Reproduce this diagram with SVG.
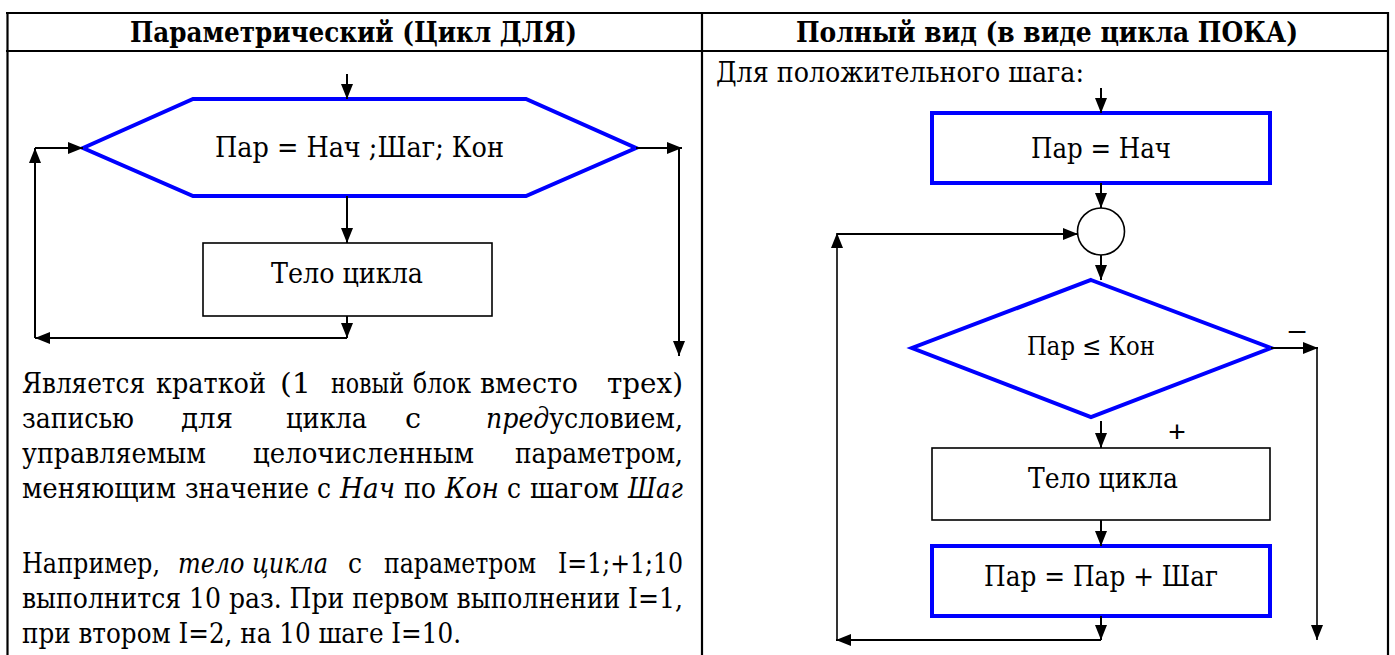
<svg xmlns="http://www.w3.org/2000/svg" width="1395" height="655" viewBox="0 0 1395 655">
  <defs>
    <marker id="arrow" viewBox="0 0 15 12" refX="15" refY="6" markerWidth="15" markerHeight="12" markerUnits="userSpaceOnUse" orient="auto">
      <path d="M0,0 L15,6 L0,12 Z" fill="#000"/>
    </marker>
  </defs>
  <style>
    .grid { stroke: #000; stroke-width: 2.2; fill: none; }
    .head { font-size: 28px; font-weight: bold; fill: #000; text-anchor: middle; }
    .body { font-size: 28px; fill: #000; }
    .lbl { font-size: 28px; fill: #000; }
    .sign { font-size: 30px; fill: #000; text-anchor: middle; }
    .blue { stroke: #0000ff; stroke-width: 4; fill: #fff; }
    .box { stroke: #000; stroke-width: 1.6; fill: #fff; }
    .flow { stroke: #000; stroke-width: 2; fill: none; }
    .flow .thin { stroke-width: 1.6; }
    .arr { marker-end: url(#arrow); }
    .it { font-style: italic; }
  </style>

  <rect width="1395" height="655" fill="#fff"/>

  <!-- table frame -->
  <g id="table" class="grid">
    <line x1="6" y1="13" x2="1389" y2="13"/>
    <line x1="6" y1="51" x2="1389" y2="51"/>
    <line x1="7.5" y1="12" x2="7.5" y2="655"/>
    <line x1="702" y1="12" x2="702" y2="655"/>
    <line x1="1388" y1="12" x2="1388" y2="655"/>
  </g>

  <g id="text-serif" font-family="DejaVu Serif Condensed, DejaVu Serif, Liberation Serif, serif">
    <!-- column headings -->
    <text id="head-left" class="head" x="353.5" y="42" textLength="447" lengthAdjust="spacingAndGlyphs">Параметрический (Цикл ДЛЯ)</text>
    <text id="head-right" class="head" x="1047" y="42" textLength="502" lengthAdjust="spacingAndGlyphs">Полный вид (в виде цикла ПОКА)</text>

    <!-- left column: compact FOR block -->
    <g id="for-block">
      <polygon class="blue" points="83,148 193,99 526,99 636,148 526,196 193,196"/>
      <text class="lbl" x="215" y="157" textLength="289" lengthAdjust="spacingAndGlyphs">Пар = Нач ;Шаг; Кон</text>
    </g>
    <g id="for-body">
      <rect class="box" x="203" y="243" width="289" height="73"/>
      <text class="lbl" x="271" y="283" textLength="152" lengthAdjust="spacingAndGlyphs">Тело цикла</text>
    </g>

    <!-- left column explanation, justified word by word -->
    <g id="for-notes" class="body">
      <text x="22" y="393" textLength="123" lengthAdjust="spacingAndGlyphs">Является</text>
      <text x="156" y="393" textLength="110" lengthAdjust="spacingAndGlyphs">краткой</text>
      <text x="280" y="393" textLength="31" lengthAdjust="spacingAndGlyphs">(1</text>
      <text x="331" y="393" textLength="73" lengthAdjust="spacingAndGlyphs">новый</text>
      <text x="413" y="393" textLength="58" lengthAdjust="spacingAndGlyphs">блок</text>
      <text x="480" y="393" textLength="98" lengthAdjust="spacingAndGlyphs">вместо</text>
      <text x="607" y="393" textLength="76" lengthAdjust="spacingAndGlyphs">трех)</text>

      <text x="22" y="428" textLength="112" lengthAdjust="spacingAndGlyphs">записью</text>
      <text x="181" y="428" textLength="52" lengthAdjust="spacingAndGlyphs">для</text>
      <text x="286" y="428" textLength="81" lengthAdjust="spacingAndGlyphs">цикла</text>
      <text x="405" y="428" textLength="16" lengthAdjust="spacingAndGlyphs">с</text>
      <text x="486" y="428" textLength="197" lengthAdjust="spacingAndGlyphs"><tspan class="it">пред</tspan>условием,</text>

      <text x="22" y="463" textLength="184" lengthAdjust="spacingAndGlyphs">управляемым</text>
      <text x="253" y="463" textLength="221" lengthAdjust="spacingAndGlyphs">целочисленным</text>
      <text x="515" y="463" textLength="168" lengthAdjust="spacingAndGlyphs">параметром,</text>

      <text x="22" y="498" textLength="154" lengthAdjust="spacingAndGlyphs">меняющим</text>
      <text x="185" y="498" textLength="124" lengthAdjust="spacingAndGlyphs">значение</text>
      <text x="317" y="498" textLength="14" lengthAdjust="spacingAndGlyphs">с</text>
      <text x="340" y="498" textLength="55" lengthAdjust="spacingAndGlyphs" class="it">Нач</text>
      <text x="404" y="498" textLength="32" lengthAdjust="spacingAndGlyphs">по</text>
      <text x="445" y="498" textLength="54" lengthAdjust="spacingAndGlyphs" class="it">Кон</text>
      <text x="507" y="498" textLength="14" lengthAdjust="spacingAndGlyphs">с</text>
      <text x="530" y="498" textLength="89" lengthAdjust="spacingAndGlyphs">шагом</text>
      <text x="628" y="498" textLength="55" lengthAdjust="spacingAndGlyphs" class="it">Шаг</text>

      <text x="22" y="573" textLength="138" lengthAdjust="spacingAndGlyphs">Например,</text>
      <text x="178" y="573" textLength="150" lengthAdjust="spacingAndGlyphs" class="it">тело цикла</text>
      <text x="348" y="573" textLength="14" lengthAdjust="spacingAndGlyphs">с</text>
      <text x="384" y="573" textLength="152" lengthAdjust="spacingAndGlyphs">параметром</text>
      <text x="558" y="573" textLength="125" lengthAdjust="spacingAndGlyphs">I=1;+1;10</text>

      <text x="22" y="608" textLength="661" lengthAdjust="spacingAndGlyphs">выполнится 10 раз. При первом выполнении I=1,</text>
      <text x="22" y="643" textLength="439" lengthAdjust="spacingAndGlyphs">при втором I=2, на 10 шаге I=10.</text>
    </g>

    <!-- right column: expanded WHILE form -->
    <text id="while-caption" class="body" x="716" y="82" textLength="368" lengthAdjust="spacingAndGlyphs">Для положительного шага:</text>

    <g id="init">
      <rect class="blue" x="932" y="113" width="338" height="70"/>
      <text class="lbl" x="1031" y="158" textLength="140" lengthAdjust="spacingAndGlyphs">Пар = Нач</text>
    </g>
    <g id="join">
      <circle cx="1101" cy="231.5" r="23.5" fill="#fff" stroke="#000" stroke-width="1.6"/>
    </g>
    <g id="condition">
      <polygon class="blue" points="1091,280 1271,348 1091,417 912,348"/>
      <text class="lbl" x="1027" y="355" style="font-size:26px" textLength="128" lengthAdjust="spacingAndGlyphs">Пар ≤ Кон</text>
    </g>
    <g id="body">
      <rect class="box" x="932" y="448" width="338" height="72"/>
      <text class="lbl" x="1028" y="488" textLength="150" lengthAdjust="spacingAndGlyphs">Тело цикла</text>
    </g>
    <g id="step">
      <rect class="blue" x="932" y="546" width="338" height="70"/>
      <text class="lbl" x="984" y="586" textLength="234" lengthAdjust="spacingAndGlyphs">Пар = Пар + Шаг</text>
    </g>
  </g>

  <!-- left column connectors -->
  <g id="for-connectors" class="flow">
    <line class="arr" x1="347" y1="74" x2="347" y2="99"/>
    <line class="arr" x1="347" y1="196" x2="347" y2="243"/>
    <line class="arr" x1="347" y1="316" x2="347" y2="338"/>
    <line class="arr" x1="347" y1="338" x2="35" y2="338"/>
    <line class="arr" x1="35" y1="338" x2="35" y2="148"/>
    <line class="arr" x1="35" y1="148" x2="83" y2="148"/>
    <line class="arr" x1="636" y1="148" x2="682" y2="148"/>
    <line class="arr" x1="679" y1="148" x2="679" y2="356"/>
  </g>

  <!-- right column connectors -->
  <g id="while-connectors" class="flow">
    <line class="arr" x1="1101" y1="88" x2="1101" y2="113"/>
    <line class="arr" x1="1101" y1="183" x2="1101" y2="208"/>
    <line class="arr" x1="1101" y1="255" x2="1101" y2="280"/>
    <line class="arr" x1="1101" y1="421" x2="1101" y2="448"/>
    <line class="arr" x1="1101" y1="520" x2="1101" y2="546"/>
    <line class="arr" x1="1101" y1="616" x2="1101" y2="640"/>
    <line class="arr" x1="1101" y1="640" x2="836" y2="640"/>
    <line class="arr thin" x1="837" y1="640" x2="837" y2="233"/>
    <line class="arr" x1="837" y1="234" x2="1078" y2="234"/>
    <line class="arr" x1="1271" y1="348" x2="1318" y2="348"/>
    <line class="arr thin" x1="1317" y1="348" x2="1317" y2="640"/>
  </g>
  <g id="branch-labels" font-family="Liberation Sans, Arial, sans-serif">
    <text class="sign" x="1297" y="340">–</text>
    <text class="sign" x="1177" y="442">+</text>
  </g>
</svg>
